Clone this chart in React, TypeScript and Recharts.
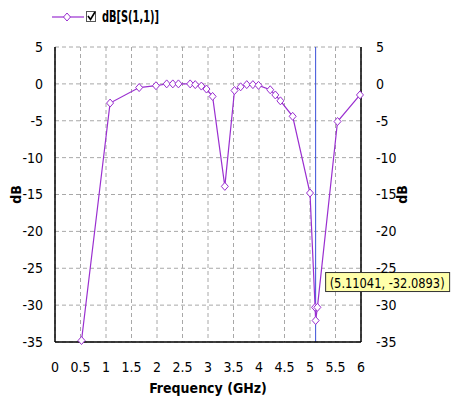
import React from 'react';
import { LineChart, Line, XAxis, YAxis, CartesianGrid, ReferenceLine, ReferenceDot, Legend } from 'recharts';

const freqGHz = [0.52, 1.08, 1.65, 1.98, 2.19, 2.31, 2.42, 2.65, 2.75, 2.87, 2.97, 3.09, 3.33, 3.52, 3.64, 3.76, 3.88, 3.99, 4.22, 4.32, 4.42, 4.66, 5.0, 5.1, 5.11041, 5.145, 5.54, 5.98];
const s11dB = [-34.8, -2.6, -0.5, -0.25, 0, 0, 0, 0, -0.1, -0.3, -0.7, -1.7, -13.9, -0.9, -0.4, -0.1, -0.1, -0.2, -0.8, -1.5, -2.3, -4.4, -14.8, -30.3, -32.0893, -30.3, -5.1, -1.5];
const xTicks = [0, 0.5, 1, 1.5, 2, 2.5, 3, 3.5, 4, 4.5, 5, 5.5, 6];
const yTicks = [5, 0, -5, -10, -15, -20, -25, -30, -35];
const markerX = 5.11041;
const markerY = -32.0893;
const seriesName = 'dB[S(1,1)]';

const data = freqGHz.map((f, i) => ({ f, v: s11dB[i] }));

const PURPLE = '#9a2fd0';
const FONT = '"DejaVu Sans Condensed", "Liberation Sans Narrow", "Liberation Sans", Arial, sans-serif';

const Diamond = (props: any) => {
  const { cx, cy } = props;
  if (cx == null || cy == null) return null;
  return (
    <path
      d={`M${cx},${cy - 4} L${cx + 3.5},${cy} L${cx},${cy + 4} L${cx - 3.5},${cy} Z`}
      fill="#ffffff"
      stroke={PURPLE}
      strokeWidth={1}
    />
  );
};

const LegendContent = () => (
  <div style={{ height: 43, display: 'flex', alignItems: 'flex-start', fontFamily: FONT }}>
    <div style={{ display: 'flex', alignItems: 'center', marginTop: 4 }}>
      <svg width={32} height={14}>
        <line x1={0} y1={7} x2={32} y2={7} stroke={PURPLE} strokeWidth={1.2} />
        <path d="M15,3 L18.5,7 L15,11 L11.5,7 Z" fill="#fff" stroke={PURPLE} />
      </svg>
      <svg width={12} height={14} style={{ marginLeft: 1 }}>
        <rect x={1.5} y={1.5} width={9} height={10} fill="#fff" stroke="#555" />
        <path d="M3,6 L5.5,9.5 L10,2" fill="none" stroke="#000" strokeWidth={1.6} />
      </svg>
      <svg width={70} height={18} style={{ marginLeft: 4 }}>
        <text x={1} y={14} fontFamily={FONT} fontSize={15} fontWeight="bold" fill="#000" textLength={57} lengthAdjust="spacingAndGlyphs">{seriesName}</text>
      </svg>
    </div>
  </div>
);

const MarkerLabel = (props: any) => {
  const vb = props.viewBox || {};
  const cx = vb.cx != null ? vb.cx : vb.x + (vb.width || 0) / 2;
  const cy = vb.cy != null ? vb.cy : vb.y + (vb.height || 0) / 2;
  const bx = cx + 10;
  const by = cy - 48;
  return (
    <g>
      <rect x={bx} y={by} width={124} height={19} fill="#ffffaa" stroke="#333" strokeWidth={1} />
      <text x={bx + 4} y={by + 15} fontFamily={FONT} fontSize={14} fill="#000" textLength={115} lengthAdjust="spacingAndGlyphs">
        {`(${markerX}, ${markerY})`}
      </text>
    </g>
  );
};

export default function App() {
  const tickStyle = { fontFamily: FONT, fontSize: 14, fill: '#000' };
  return (
    <div style={{ position: 'absolute', left: 0, top: 0, width: 453, height: 398, background: '#fff' }}>
      <LineChart width={453} height={398} data={data} margin={{ top: 4, right: 42, bottom: 0, left: 0 }}>
        <Legend verticalAlign="top" align="left" content={<LegendContent />} wrapperStyle={{ left: 52, top: 4 }} />
        <CartesianGrid yAxisId="left" stroke="#a8a8a8" strokeDasharray="4 3" />
        <XAxis
          dataKey="f"
          type="number"
          domain={[0, 6]}
          ticks={xTicks}
          interval={0}
          height={56}
          tickLine={false}
          axisLine={{ stroke: '#000', strokeWidth: 1.5 }}
          tick={tickStyle}
          tickMargin={14}
          label={{ value: 'Frequency (GHz)', position: 'insideBottom', offset: 5, style: { fontFamily: FONT, fontSize: 14, fontWeight: 'bold', fill: '#000' } }}
        />
        <XAxis xAxisId="top" dataKey="f" orientation="top" type="number" domain={[0, 6]} ticks={xTicks} height={0} tick={false} tickLine={false} axisLine={{ stroke: '#000', strokeWidth: 1.5 }} />
        <YAxis
          yAxisId="left"
          type="number"
          domain={[-35, 5]}
          ticks={yTicks}
          interval={0}
          width={55}
          tickLine={false}
          axisLine={{ stroke: '#000', strokeWidth: 1.5 }}
          tick={tickStyle}
          tickMargin={6}
          label={{ value: 'dB', angle: -90, position: 'insideLeft', offset: 16, style: { fontFamily: FONT, fontSize: 14, fontWeight: 'bold', fill: '#000', textAnchor: 'middle' } }}
        />
        <YAxis
          yAxisId="right"
          orientation="right"
          type="number"
          domain={[-35, 5]}
          ticks={yTicks}
          interval={0}
          width={50}
          tickLine={false}
          axisLine={{ stroke: '#000', strokeWidth: 1.5 }}
          tick={tickStyle}
          tickMargin={9}
          label={{ value: 'dB', angle: -90, position: 'insideRight', offset: 9, style: { fontFamily: FONT, fontSize: 14, fontWeight: 'bold', fill: '#000', textAnchor: 'middle' } }}
        />
        <ReferenceLine yAxisId="left" x={markerX} stroke="#3a4fd8" strokeWidth={1} />
        <Line
          xAxisId="top"
          yAxisId="right"
          type="linear"
          dataKey="v"
          stroke="none"
          strokeWidth={0}
          dot={false}
          activeDot={false}
          legendType="none"
          isAnimationActive={false}
        />
        <Line
          yAxisId="left"
          type="linear"
          dataKey="v"
          stroke={PURPLE}
          strokeWidth={1.2}
          dot={<Diamond />}
          activeDot={false}
          isAnimationActive={false}
        />
        <ReferenceDot yAxisId="left" x={markerX} y={markerY} r={0} stroke="none" fill="none" label={<MarkerLabel />} />
      </LineChart>
    </div>
  );
}
